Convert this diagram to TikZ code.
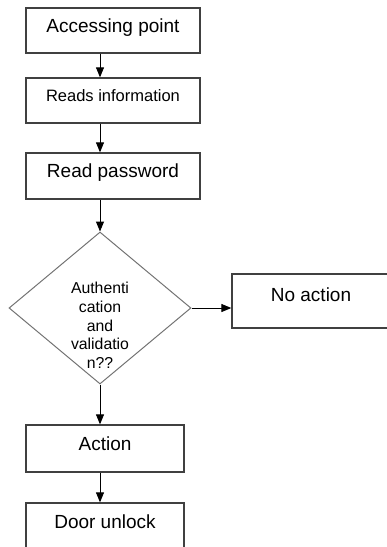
\documentclass[tikz,border=0pt]{standalone}
\usepackage{fontspec}
\setmainfont{Liberation Sans}
\usepackage{xcolor}
\usepackage{tikz}
\usetikzlibrary{shapes,arrows.meta,positioning}

\begin{document}
\begin{tikzpicture}[
    x=1pt, y=-1pt,
    every node/.style={inner sep=0pt},
    box/.style={draw=black!75, line width=1.3pt, minimum width=174pt, minimum height=45pt,
        font=\fontsize{19}{22}\selectfont, text height=14pt, text depth=11pt},
    decision/.style={diamond, draw=black!55, line width=1pt,
        minimum width=182pt, minimum height=152pt,
        text width=62pt, align=center, font=\fontsize{15.8}{18.7}\selectfont,
        text height=12pt, text depth=40.6pt},
    flow/.style={-{Triangle[length=10pt,width=8pt]}, line width=1pt, black},
]
\useasboundingbox (0,0) rectangle (387,547);

% Reading stage
\node[box] (access) at (113,30.5) {Accessing point};
\node[box, font=\fontsize{16.5}{19}\selectfont, text height=12pt, text depth=9.6pt] (reads) at (113,100.5) {Reads information};
\node[box, minimum height=46pt] (passwd) at (113,176) {Read password};

% Check
\node[decision] (check) at (100,308) {Authenti\\cation\\and\\validatio\\n??};
\node[box, minimum width=170pt, minimum height=54pt, text depth=14pt] (noact) at (317,301) {No action\rule{12pt}{0pt}};

% Result
\node[box, minimum width=158pt, minimum height=47pt] (action) at (105,448.5) {Action};
\node[box, minimum width=158pt, minimum height=46pt, text depth=10pt] (door) at (105,526) {Door unlock};

% Connectors
\draw[flow] (access.south -| check.north) -- (reads.north -| check.north);
\draw[flow] (reads.south -| check.north) -- (passwd.north -| check.north);
\draw[flow] (passwd.south -| check.north) -- (check.north);
\draw[flow] (check.east) -- (noact.west |- check.east);
\draw[flow] (check.south) -- (action.north -| check.south);
\draw[flow] (action.south -| check.south) -- (door.north -| check.south);

\end{tikzpicture}
\end{document}
